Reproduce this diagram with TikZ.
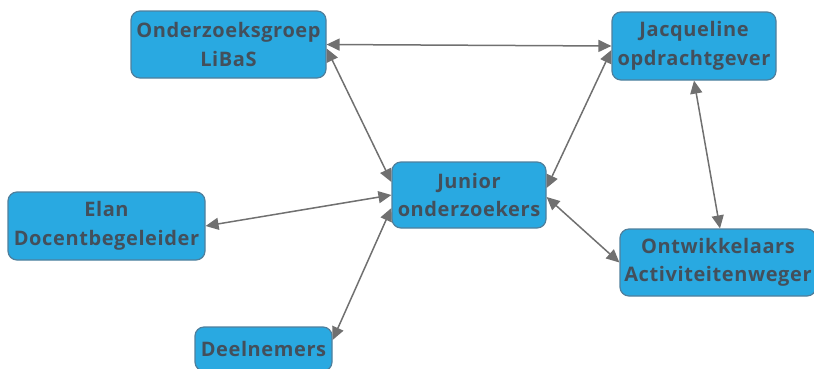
\documentclass[tikz,border=0pt]{standalone}
\usepackage{fontspec}
\setmainfont{Open Sans}[BoldFont={* Bold}, LetterSpace=3]
\usetikzlibrary{arrows.meta}
\definecolor{boxfill}{HTML}{29A9E1}
\definecolor{boxline}{HTML}{4F7F9C}
\definecolor{boxtext}{HTML}{434F5B}
\definecolor{arrowcol}{HTML}{707070}
\tikzset{
  box/.style={draw=boxline, line width=1.2pt, fill=boxfill, rounded corners=9pt,
    text=boxtext, font=\bfseries\fontsize{20}{28.5}\selectfont, align=center,
    inner sep=0pt},
  link/.style={draw=arrowcol, line width=1.5pt,
    {Triangle[length=13pt,width=12pt]}-{Triangle[length=13pt,width=12pt]}}
}
\begin{document}
\begin{tikzpicture}[x=1pt,y=-1pt]
\useasboundingbox (0,0) rectangle (814,368);
\begin{scope}
\clip (0,0) rectangle (814,368);
\node[box, minimum width=195pt, minimum height=67pt] (L) at (228.5,44.5) {Onderzoeksgroep\\LiBaS};
\node[box, minimum width=164pt, minimum height=68pt] (J) at (694,46) {Jacqueline\\opdrachtgever};
\node[box, minimum width=154pt, minimum height=66pt] (Jr) at (469,195) {Junior\\onderzoekers};
\node[box, minimum width=197pt, minimum height=68pt] (E) at (106.5,226) {Elan\\Docentbegeleider};
\node[box, minimum width=196pt, minimum height=67pt] (O) at (718,262.5) {Ontwikkelaars\\Activiteitenweger};
\node[box, minimum width=137pt, minimum height=44pt] (D) at (263.5,349) {Deelnemers};

\draw[link] (L.east) -- (J.west);
\draw[link] ([yshift=-4pt]L.east) -- ([yshift=13pt]Jr.west);
\draw[link] ([yshift=-4pt]J.west) -- ([yshift=7pt]Jr.east);
\draw[link] (Jr.west) -- (E.east);
\draw[link] ([yshift=-13pt]Jr.west) -- ([yshift=9pt]D.east);
\draw[link] ([yshift=-2pt]Jr.east) -- (O.west);
\draw[link] (J.south) -- ([xshift=2pt]O.north);
\end{scope}
\end{tikzpicture}
\end{document}
